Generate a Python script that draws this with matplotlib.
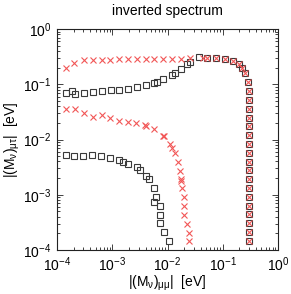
import matplotlib
matplotlib.use("Agg")
import matplotlib.pyplot as plt
from matplotlib.ticker import LogLocator, LogFormatterSciNotation, NullFormatter

plt.rcParams['font.family'] = ['Liberation Sans', 'DejaVu Sans']
plt.rcParams['mathtext.fontset'] = 'custom'
plt.rcParams['mathtext.rm'] = 'Liberation Sans'
plt.rcParams['mathtext.it'] = 'Liberation Sans'
plt.rcParams['mathtext.bf'] = 'Liberation Sans:bold'

# right-hand column shared by both upper branches
col_y = [0.0517, 0.0360, 0.0250, 0.0175, 0.0120, 0.00826, 0.00581, 0.00399,
         0.00279, 0.00194, 0.00132, 0.000916, 0.000637, 0.000446, 0.000310,
         0.000216, 0.000148]
col_x = [0.302] * len(col_y)

# black squares, upper branch
black_up_x = [1.44e-4, 1.83e-4, 2.10e-4, 3.02e-4, 4.40e-4, 6.40e-4, 9.31e-4, 1.33e-3,
              1.94e-3, 2.79e-3, 4.01e-3, 5.74e-3, 6.50e-3, 8.36e-3, 1.22e-2, 1.36e-2,
              1.75e-2, 2.28e-2, 2.55e-2, 3.71e-2, 5.24e-2, 7.53e-2, 0.110, 0.155,
              0.196, 0.225, 0.256, 0.283, 0.294] + col_x
black_up_y = [0.0681, 0.0762, 0.0665, 0.0693, 0.0731, 0.0753, 0.0772, 0.0795,
              0.0829, 0.0890, 0.0951, 0.106, 0.111, 0.122, 0.149, 0.160,
              0.188, 0.232, 0.248, 0.306, 0.298, 0.293, 0.286, 0.259,
              0.232, 0.197, 0.160, 0.110, 0.0753] + col_y

# red crosses, upper branch
red_up_x = [1.44e-4, 2.07e-4, 3.02e-4, 4.40e-4, 6.40e-4, 9.16e-4, 1.33e-3, 1.92e-3,
            2.79e-3, 4.01e-3, 5.74e-3, 8.36e-3, 1.22e-2, 1.75e-2, 2.55e-2, 4.33e-2,
            5.24e-2, 7.53e-2, 0.110, 0.155, 0.196, 0.225, 0.256, 0.283, 0.294] + col_x
red_up_y = [0.197, 0.238, 0.270, 0.270, 0.278, 0.278, 0.281, 0.281,
            0.286, 0.286, 0.287, 0.287, 0.287, 0.290, 0.298, 0.298,
            0.298, 0.293, 0.286, 0.259, 0.232, 0.197, 0.160, 0.110, 0.0753] + col_y

# red crosses, lower branch
red_lo_x = [1.44e-4, 2.13e-4, 3.06e-4, 4.40e-4, 6.40e-4, 9.06e-4, 1.32e-3, 1.89e-3,
            2.71e-3, 3.94e-3, 4.01e-3, 5.74e-3, 8.15e-3, 8.5e-3, 1.10e-2, 1.22e-2,
            1.36e-2, 1.54e-2, 1.68e-2, 1.76e-2, 1.79e-2, 1.85e-2, 1.96e-2, 1.96e-2,
            1.96e-2, 2.22e-2, 2.47e-2, 2.47e-2]
red_lo_y = [0.0356, 0.0356, 0.0305, 0.0258, 0.0272, 0.0247, 0.0218, 0.0209,
            0.0203, 0.0182, 0.0175, 0.0154, 0.0118, 0.0117, 0.00836, 0.00716,
            0.00581, 0.00394, 0.00274, 0.00190, 0.00180, 0.00132, 0.000905, 0.000629,
            0.000432, 0.000301, 0.000207, 0.000144]

# black squares, lower branch
black_lo_x = [1.44e-4, 2.07e-4, 2.97e-4, 4.33e-4, 6.21e-4, 9.06e-4, 1.32e-3, 1.57e-3,
              1.92e-3, 2.75e-3, 3.16e-3, 4.01e-3, 4.60e-3, 5.67e-3, 6.17e-3, 5.74e-3,
              7.38e-3, 7.38e-3, 7.38e-3, 8.61e-3, 1.05e-2]
black_lo_y = [0.00522, 0.00507, 0.00507, 0.00522, 0.00500, 0.00466, 0.00423, 0.00399,
              0.00367, 0.00316, 0.00279, 0.00220, 0.00192, 0.00132, 0.000905, 0.000735,
              0.000629, 0.000438, 0.000306, 0.000210, 0.000144]

title = "inverted spectrum"
xlabel = r"$|(\mathrm{M}_{\nu})_{\mu\mu}|$  [eV]"
ylabel = r"$|(\mathrm{M}_{\nu})_{\mu\tau}|$  [eV]"

fig = plt.figure(figsize=(2.91, 2.94), dpi=100)
ax = fig.add_axes([57 / 291, 1 - 250 / 294, 221 / 291, 221 / 294])

sq = dict(marker='s', linestyle='none', markersize=3.8, markerfacecolor='none',
          markeredgecolor='#3a3a3a', markeredgewidth=0.8)
xx = dict(marker='x', linestyle='none', markersize=3.8, color='#f25656',
          markeredgewidth=0.8)

ax.plot(black_up_x, black_up_y, **sq)
ax.plot(black_lo_x, black_lo_y, **sq)
ax.plot(red_up_x, red_up_y, **xx)
ax.plot(red_lo_x, red_lo_y, **xx)

ax.set_xscale('log')
ax.set_yscale('log')
ax.set_xlim(1e-4, 1)
ax.set_ylim(1e-4, 1)

for axis in (ax.xaxis, ax.yaxis):
    axis.set_major_locator(LogLocator(base=10, numticks=10))
    axis.set_minor_locator(LogLocator(base=10, subs=range(2, 10), numticks=20))
    axis.set_major_formatter(LogFormatterSciNotation())
    axis.set_minor_formatter(NullFormatter())

ax.tick_params(which='both', direction='in', top=True, right=True,
               labelsize=10, width=0.6, colors='#222222', labelcolor='black')
ax.tick_params(which='major', length=4.5, pad=4)
ax.tick_params(which='minor', length=2.5)
for s in ax.spines.values():
    s.set_linewidth(0.8)
    s.set_color('#222222')

ax.set_title(title, fontsize=10, pad=10)
ax.set_xlabel(xlabel, fontsize=10, labelpad=0)
ax.set_ylabel(ylabel, fontsize=10, labelpad=1)

fig.savefig("out.png", dpi=100)
